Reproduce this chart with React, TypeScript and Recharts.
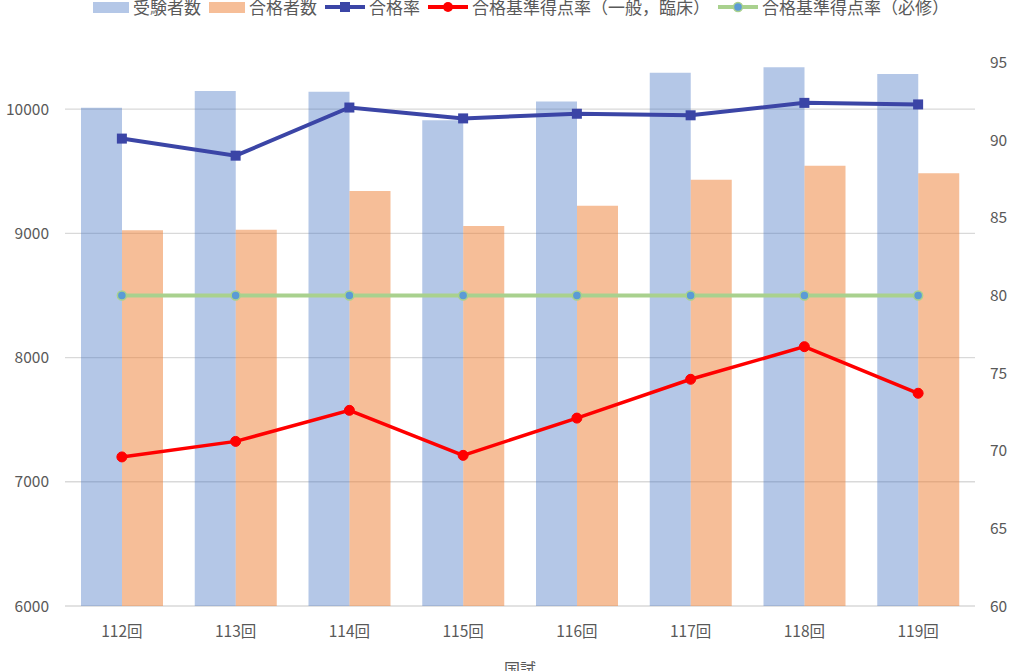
import { ComposedChart, Bar, Line, XAxis, YAxis, CartesianGrid } from 'recharts';

const exams = ['112回', '113回', '114回', '115回', '116回', '117回', '118回', '119回'];
const examinees = [10010, 10146, 10140, 9910, 10061, 10293, 10336, 10282];
const passers = [9024, 9029, 9341, 9058, 9222, 9432, 9543, 9484];
const passRate = [90.1, 89.0, 92.1, 91.4, 91.7, 91.6, 92.4, 92.3];
const cutoffGeneral = [69.6, 70.6, 72.6, 69.7, 72.1, 74.6, 76.7, 73.7];
const cutoffRequired = [80, 80, 80, 80, 80, 80, 80, 80];

const leftTicks = [6000, 7000, 8000, 9000, 10000];
const rightTicks = [60, 65, 70, 75, 80, 85, 90, 95];

const data = exams.map((name, i) => ({
  name,
  examinees: examinees[i],
  passers: passers[i],
  passRate: passRate[i],
  cutoffGeneral: cutoffGeneral[i],
  cutoffRequired: cutoffRequired[i],
}));

const FONT = '"Noto Sans CJK JP", "Noto Sans", sans-serif';
const TEXT = '#595959';

const COLORS = {
  blue: '#4472C4',
  orange: '#ED7D31',
  rate: '#3B45A6',
  red: '#FF0000',
  green: '#A9D18E',
  dotBlue: '#5B9BD5',
};

const legendItems = [
  { label: '受験者数', kind: 'bar', color: COLORS.blue, opacity: 0.4 },
  { label: '合格者数', kind: 'bar', color: COLORS.orange, opacity: 0.5 },
  { label: '合格率', kind: 'square', color: COLORS.rate },
  { label: '合格基準得点率（一般，臨床）', kind: 'circle', color: COLORS.red },
  { label: '合格基準得点率（必修）', kind: 'green', color: COLORS.green },
];

const LegendIcon = ({ item }: { item: (typeof legendItems)[number] }) => {
  if (item.kind === 'bar') {
    return (
      <svg width={36} height={11}>
        <rect width={36} height={11} fill={item.color} fillOpacity={item.opacity} />
      </svg>
    );
  }
  return (
    <svg width={40} height={12}>
      <line x1={0} y1={6} x2={40} y2={6} stroke={item.color} strokeWidth={4} />
      {item.kind === 'square' && <rect x={15} y={1} width={10} height={10} fill={item.color} />}
      {item.kind === 'circle' && <circle cx={20} cy={6} r={5} fill={item.color} />}
      {item.kind === 'green' && (
        <circle cx={20} cy={6} r={4.5} fill={COLORS.dotBlue} stroke={COLORS.green} strokeWidth={1.5} />
      )}
    </svg>
  );
};

const SquareDot = (props: any) => {
  const { cx, cy, index } = props;
  return <rect key={`sq-${index}`} x={cx - 5} y={cy - 5} width={10} height={10} fill={COLORS.rate} />;
};

export default function App() {
  return (
    <div style={{ position: 'absolute', left: 0, top: 0, width: 1024, height: 671, background: '#fff', fontFamily: FONT }}>
      <div
        style={{
          position: 'absolute',
          top: 0,
          left: 93,
          height: 14,
          display: 'flex',
          alignItems: 'center',
          whiteSpace: 'nowrap',
          color: TEXT,
          fontSize: 17,
          lineHeight: '14px',
        }}
      >
        {legendItems.map((item) => (
          <div key={item.label} style={{ display: 'flex', alignItems: 'center', marginRight: 8 }}>
            <LegendIcon item={item} />
            <span style={{ marginLeft: 4 }}>{item.label}</span>
          </div>
        ))}
      </div>
      <ComposedChart
        width={1024}
        height={671}
        data={data}
        margin={{ top: 62.5, right: 0, left: 0, bottom: 0 }}
        barCategoryGap={16}
        barGap={0}
        style={{ fontFamily: FONT }}
      >
        <CartesianGrid
          yAxisId="left"
          vertical={false}
          horizontalValues={leftTicks}
          stroke="#D9D9D9"
          strokeWidth={1.3}
        />
        <XAxis
          dataKey="name"
          height={65}
          tickSize={0}
          tickMargin={20}
          axisLine={false}
          tickLine={false}
          tick={{ fill: TEXT, fontSize: 15.5 }}
          label={{ value: '国試', position: 'insideBottom', offset: -4, fill: TEXT, fontSize: 16 }}
        />
        <YAxis
          yAxisId="left"
          width={65}
          domain={[6000, 10375]}
          ticks={leftTicks}
          tickSize={0}
          tickMargin={16}
          axisLine={false}
          tickLine={false}
          allowDataOverflow
          tick={{ fill: TEXT, fontSize: 15.5 }}
        />
        <YAxis
          yAxisId="right"
          orientation="right"
          width={49}
          domain={[60, 95]}
          ticks={rightTicks}
          tickSize={0}
          tickMargin={15}
          axisLine={false}
          tickLine={false}
          tick={{ fill: TEXT, fontSize: 15.5 }}
        />
        <Bar yAxisId="left" dataKey="examinees" fill={COLORS.blue} fillOpacity={0.4} isAnimationActive={false} />
        <Bar yAxisId="left" dataKey="passers" fill={COLORS.orange} fillOpacity={0.5} isAnimationActive={false} />
        <Line
          yAxisId="right"
          dataKey="cutoffRequired"
          stroke={COLORS.green}
          strokeWidth={4}
          dot={{ r: 4.5, fill: COLORS.dotBlue, stroke: COLORS.green, strokeWidth: 1.5 }}
          isAnimationActive={false}
        />
        <Line
          yAxisId="right"
          dataKey="cutoffGeneral"
          stroke={COLORS.red}
          strokeWidth={3.5}
          dot={{ r: 5, fill: COLORS.red, stroke: COLORS.red, strokeWidth: 1 }}
          isAnimationActive={false}
        />
        <Line
          yAxisId="right"
          dataKey="passRate"
          stroke={COLORS.rate}
          strokeWidth={4}
          dot={SquareDot}
          isAnimationActive={false}
        />
      </ComposedChart>
    </div>
  );
}
